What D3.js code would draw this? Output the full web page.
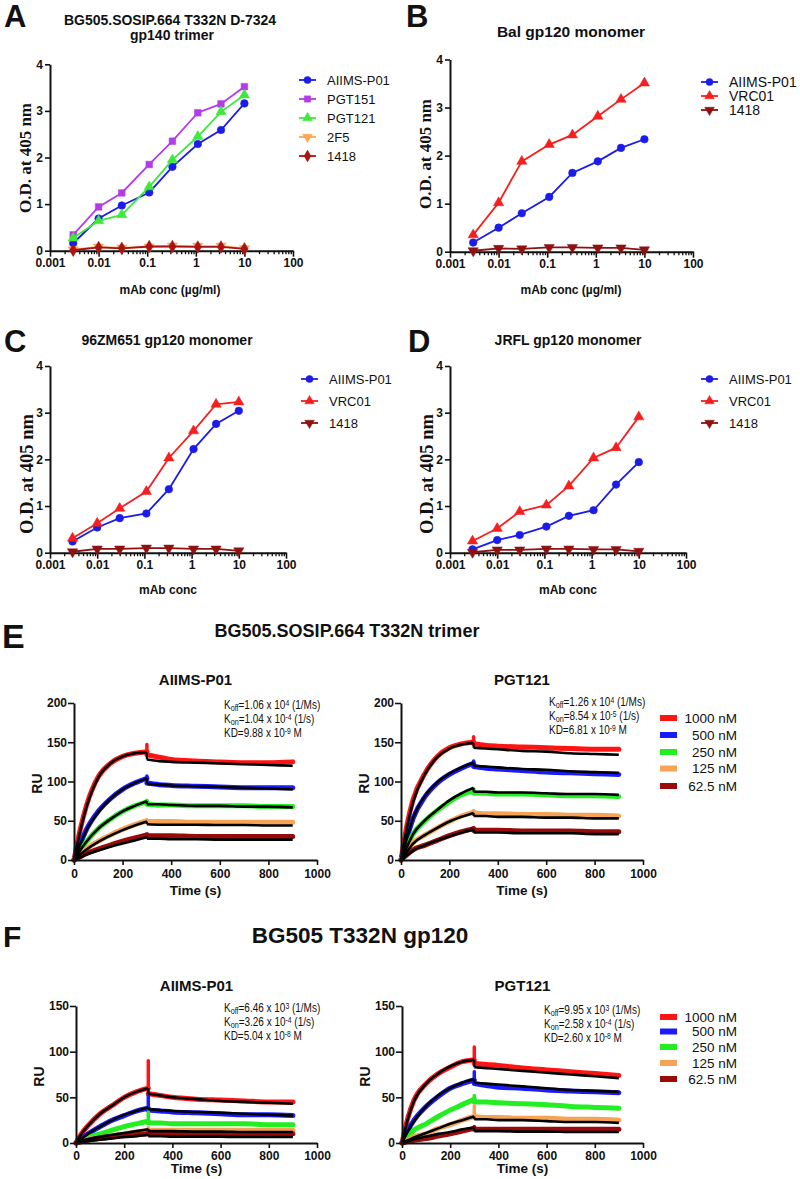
<!DOCTYPE html>
<html><head><meta charset="utf-8">
<script src="https://cdn.jsdelivr.net/npm/d3@7"></script>
<style>
body{margin:0;background:#fff}
svg{display:block}
text{font-family:"Liberation Sans",Arial,sans-serif;fill:#111}
</style></head>
<body><svg id="c" width="800" height="1179"></svg>
<script>
// ---------------- ELISA data (panels A-D) ----------------
const conc = [0.003, 0.01, 0.03, 0.11, 0.33, 1.1, 3.3, 10];
const logTicks = [0.001, 0.01, 0.1, 1, 10, 100];
const odTicks = [0, 1, 2, 3, 4];

const A_AIIMS  = [0.16, 0.69, 0.97, 1.25, 1.80, 2.29, 2.59, 3.16];
const A_PGT151 = [0.34, 0.94, 1.24, 1.85, 2.35, 2.96, 3.15, 3.52];
const A_PGT121 = [0.27, 0.64, 0.77, 1.37, 1.95, 2.45, 2.98, 3.34];
const A_2F5    = [0.02, 0.08, 0.06, 0.08, 0.10, 0.10, 0.10, 0.05];
const A_1418   = [0.01, 0.07, 0.05, 0.09, 0.09, 0.08, 0.08, 0.04];

const B_AIIMS = [0.19, 0.50, 0.80, 1.14, 1.64, 1.88, 2.16, 2.34];
const B_VRC01 = [0.35, 1.02, 1.88, 2.23, 2.43, 2.82, 3.17, 3.51];
const B_1418  = [0.02, 0.07, 0.06, 0.09, 0.09, 0.08, 0.08, 0.04];

const C_AIIMS = [0.24, 0.54, 0.74, 0.84, 1.36, 2.22, 2.76, 3.04];
const C_VRC01 = [0.31, 0.63, 0.95, 1.31, 2.03, 2.61, 3.18, 3.23];
const C_1418  = [0.02, 0.08, 0.08, 0.10, 0.10, 0.08, 0.08, 0.04];

const D_AIIMS = [0.07, 0.27, 0.38, 0.56, 0.79, 0.91, 1.46, 1.94];
const D_VRC01 = [0.25, 0.52, 0.88, 1.02, 1.43, 2.03, 2.25, 2.91];
const D_1418  = [0.01, 0.06, 0.06, 0.08, 0.08, 0.07, 0.07, 0.03];

// ---------------- SPR data (panels E-F) ----------------
const assocT  = [0, 25, 50, 100, 150, 200, 250, 300];
const dissocT = [300, 350, 400, 500, 600, 700, 800, 900];
const sprLabels = ["1000 nM", "500 nM", "250 nM", "125 nM", "62.5 nM"];
const timeTicks = [0, 200, 400, 600, 800, 1000];
const ruTicksE = [0, 50, 100, 150, 200];
const ruTicksF = [0, 50, 100, 150];

// E left: AIIMS-P01 vs trimer
const E1_assoc = [[0,38,68,106,123,132,136,138],[0,20,38,62,78,90,98,104],[0,12,23,40,52,62,69,74],[0,7,14,24,32,39,45,50],[0,4,8,14,19,24,28,32]];
const E1_spike = [147, 107, 76, 51, 33];
const E1_dissoc = [[134,131,128,126,125,124,124,125],[98,96,95,94,93,92,92,92],[71,70,70,69,69,69,68,68],[49,49,49,48,48,48,48,48],[31,31,31,30,30,30,30,30]];
const E1_fitAssoc = [[0,36,66,105,123,132,136,137],[0,19,37,61,78,90,98,104],[0,12,23,40,52,62,69,75],[0,7,13,23,31,38,44,49],[0,3,7,12,17,21,25,29]];
const E1_fitDissoc = [[128,126,125,124,123,122,121,120],[97,96,95,94,93,92,91,90],[71,71,70,69,69,68,68,67],[45.5,45,45,45,44.5,44.5,44,44],[27,27,26.5,26.5,26,26,26,26]];

// E right: PGT121 vs trimer
const E2_assoc = [[0,45,77,111,132,143,148,150],[0,28,53,81,98,109,117,123],[0,17,33,50,63,74,83,88],[0,12,22,32,41,49,56,61],[0,7,13,19,25,31,36,40]];
const E2_spike = [157, 126, 90, 63, 41];
const E2_dissoc = [[148,146,145,144,143,142,141,141],[119,117,116,114,112,111,110,109],[85,85,84,84,83,82,82,81],[60,59,59,58,58,57,57,56],[38,38,38,37,37,37,36,36]];
const E2_fitAssoc = [[0,42,74,110,131,142,147,149],[0,28,53,82,99,110,118,124],[0,17,33,51,64,76,85,92],[0,11,21,32,41,49,55,60],[0,6,12,19,25,30,35,39]];
const E2_fitDissoc = [[143,142,141,139,138,136,135,134],[120,119,118,116,115,113,112,111],[87,87,86,86,85,84,84,83],[56,56,55,55,54,54,53,53],[35,35,35,34,34,34,33,33]];

// F left: AIIMS-P01 vs gp120
const F1_assoc = [[0,11,19,32,41,50,56,60],[0,5,10,18,25,30,35,38],[0,3,6,10,14,18,21,24],[0,2,4,6,8,10,12,14],[0,1.5,3,5,6.5,8,9,10]];
const F1_spike = [90, 54, 34, 17, 14];
const F1_dissoc = [[54,52,50,48,47,46,45,45],[36,35,34,33,32,31,31,30],[22,22,21,21,21,21,20,20],[14,14,14,14,14,14,14,14],[10,10,10,10,10,10,10,10]];
const F1_fitAssoc = [[0,11,19,32,41,50,56,60],[0,5,10,18,25,31,35,39],null,[0,2,4,7,9,11,13,15],[0,1,2,3.5,5,6.5,7.5,9]];
const F1_fitDissoc = [[54,52,50,48,46,45,44,43],[37,36,35,34,33,32,31,30],null,[13,13,13,12.5,12.5,12,12,12],[7.5,7.5,7,7,7,6.5,6.5,6.5]];

// F right: PGT121 vs gp120
const F2_assoc = [[0,28,47,65,76,83,89,91],[0,14,25,40,51,60,65,69],[0,7,14,21,29,36,42,48],[0,3,7,10,16,20,25,29],[0,1.5,3,5,7.5,10,13,16]];
const F2_spike = [105, 78, 52, 41, 18];
const F2_dissoc = [[87,86,85,82,80,78,76,74],[65,63,61,60,58,57,56,55],[45,45,44,43,42,40,39,38],[29,28,28,27,27,26,26,25],[15,15,15,15,15,15,15,15]];
const F2_fitAssoc = [[0,27,46,65,76,84,89,91],[0,13,24,40,52,60,66,70],null,[0,3,6,11,16,21,25,29],[0,2,4,7,10,12,15,17]];
const F2_fitDissoc = [[83,82,81,79,77,75,73,71],[66,65,64,62,60,58,57,56],null,[26,26,25,25,24,23,23,22],[13,13,13,12.5,12.5,12,12,12]];

const sprColors = ["#ff1414", "#1a1aff", "#22ee22", "#f7a355", "#990a0a"];

// ---------------- drawing helpers ----------------
const svg = d3.select("#c");
const BOLD = "bold";

function txt(x, y, s, size, opt = {}) {
  const t = svg.append("text").attr("x", x).attr("y", y).text(s)
    .style("font-size", size + "px")
    .style("font-weight", opt.weight || "normal")
    .attr("text-anchor", opt.anchor || "start");
  if (opt.family) t.style("font-family", opt.family);
  if (opt.rotate) t.attr("transform", `rotate(-90 ${x} ${y})`);
  return t;
}

function styleAxis(g, fs) {
  g.select(".domain").attr("stroke", "#111").attr("stroke-width", 2);
  g.selectAll(".tick line").attr("stroke", "#111").attr("stroke-width", 1.6);
  g.selectAll(".tick text").style("font-size", fs + "px").style("font-weight", "bold")
    .style("font-family", '"Liberation Sans",Arial,sans-serif').attr("fill", "#111");
}

const minorTicks = [];
[0.001, 0.01, 0.1, 1, 10].forEach(d => { for (let k = 2; k <= 9; k++) minorTicks.push(d * k); });

function symbolPath(kind, size) {
  const map = { circle: d3.symbolCircle, square: d3.symbolSquare, tri: d3.symbolTriangle, tridown: d3.symbolTriangle, diamond: d3.symbolDiamond };
  return d3.symbol().type(map[kind]).size(size)();
}

function drawMarker(g, kind, x, y, color, size) {
  g.append("path").attr("d", symbolPath(kind, size))
    .attr("transform", `translate(${x},${y})` + (kind === "tridown" ? " rotate(180)" : ""))
    .attr("fill", color).attr("stroke", color).attr("stroke-width", 0.5);
}

function elisaPanel(cfg) {
  const x = d3.scaleLog().domain([0.001, 100]).range([cfg.x0, cfg.x1]);
  const y = d3.scaleLinear().domain([0, 4]).range([cfg.yb, cfg.yt]);
  const g = svg.append("g");
  const gm = g.append("g").attr("transform", `translate(0,${cfg.yb})`)
    .call(d3.axisBottom(x).tickValues(minorTicks).tickSize(3.5).tickSizeOuter(0).tickFormat(""));
  gm.select(".domain").remove();
  gm.selectAll(".tick line").attr("stroke", "#111").attr("stroke-width", 1.3);
  const gx = g.append("g").attr("transform", `translate(0,${cfg.yb})`)
    .call(d3.axisBottom(x).tickValues(logTicks).tickSize(6).tickSizeOuter(0).tickPadding(2).tickFormat(d => String(d)));
  styleAxis(gx, 12);
  const gy = g.append("g").attr("transform", `translate(${cfg.x0},0)`)
    .call(d3.axisLeft(y).tickValues(odTicks).tickSize(5).tickSizeOuter(0).tickPadding(2).tickFormat(d3.format("d")));
  styleAxis(gy, 12);
  const line = d3.line().x((d, i) => x(conc[i])).y(d => y(d));
  cfg.series.forEach(s => {
    g.append("path").attr("d", line(s.vals)).attr("fill", "none").attr("stroke", s.color).attr("stroke-width", 1.8);
    s.vals.forEach((v, i) => drawMarker(g, s.symbol, x(conc[i]), y(v), s.color, s.msize || 46));
  });
  cfg.series.forEach((s, i) => {
    const yy = cfg.legY[i];
    g.append("line").attr("x1", cfg.legX).attr("x2", cfg.legX + 17).attr("y1", yy).attr("y2", yy)
      .attr("stroke", s.color).attr("stroke-width", 1.8);
    drawMarker(g, s.symbol, cfg.legX + 8.5, yy, s.color, 40);
    txt(cfg.legX + 28, yy + cfg.legFs * 0.36, s.name, cfg.legFs);
  });
  txt(cfg.ylabX, cfg.ylabY, "O.D. at 405 nm", cfg.ylabFs, { weight: BOLD, anchor: "middle", rotate: true, family: '"Liberation Serif","Times New Roman",serif' });
}

const cBlue = "#1c1ce8", cPurple = "#b33ce6", cGreen = "#3ee83e", cOrange = "#ffa54f", cDark = "#a81414", cRed = "#f51f1f", cDark2 = "#8e1212";

elisaPanel({ x0: 50, x1: 293, yb: 250.7, yt: 64.3, legX: 299, legY: [80, 99, 118, 137, 156], legFs: 13, ylabX: 31, ylabY: 158, ylabFs: 17,
  series: [
    { name: "AIIMS-P01", vals: A_AIIMS, color: cBlue, symbol: "circle" },
    { name: "PGT151", vals: A_PGT151, color: cPurple, symbol: "square", msize: 44 },
    { name: "PGT121", vals: A_PGT121, color: cGreen, symbol: "tri" },
    { name: "2F5", vals: A_2F5, color: cOrange, symbol: "tridown" },
    { name: "1418", vals: A_1418, color: cDark, symbol: "diamond" }] });

elisaPanel({ x0: 450, x1: 693, yb: 251.7, yt: 59.5, legX: 701, legY: [82, 96, 110], legFs: 14, ylabX: 431, ylabY: 154, ylabFs: 17,
  series: [
    { name: "AIIMS-P01", vals: B_AIIMS, color: cBlue, symbol: "circle" },
    { name: "VRC01", vals: B_VRC01, color: cRed, symbol: "tri" },
    { name: "1418", vals: B_1418, color: cDark2, symbol: "tridown" }] });

elisaPanel({ x0: 50, x1: 286, yb: 552.7, yt: 366, legX: 301, legY: [379, 401, 423], legFs: 13, ylabX: 33, ylabY: 474, ylabFs: 18.5,
  series: [
    { name: "AIIMS-P01", vals: C_AIIMS, color: cBlue, symbol: "circle" },
    { name: "VRC01", vals: C_VRC01, color: cRed, symbol: "tri" },
    { name: "1418", vals: C_1418, color: cDark2, symbol: "tridown" }] });

elisaPanel({ x0: 450, x1: 686, yb: 552.7, yt: 366, legX: 701, legY: [379, 401, 423], legFs: 13, ylabX: 433, ylabY: 474, ylabFs: 18.5,
  series: [
    { name: "AIIMS-P01", vals: D_AIIMS, color: cBlue, symbol: "circle" },
    { name: "VRC01", vals: D_VRC01, color: cRed, symbol: "tri" },
    { name: "1418", vals: D_1418, color: cDark2, symbol: "tridown" }] });

txt(4, 27, "A", 31, { weight: BOLD });
txt(170, 25, "BG505.SOSIP.664 T332N D-7324", 14, { weight: BOLD, anchor: "middle" });
txt(172, 40, "gp140 trimer", 14, { weight: BOLD, anchor: "middle" });
txt(406, 27, "B", 31, { weight: BOLD });
txt(571, 37, "Bal gp120 monomer", 15.5, { weight: BOLD, anchor: "middle" });
txt(4, 352, "C", 31, { weight: BOLD });
txt(167, 345, "96ZM651 gp120 monomer", 14, { weight: BOLD, anchor: "middle" });
txt(408, 352, "D", 31, { weight: BOLD });
txt(568, 345, "JRFL gp120 monomer", 14, { weight: BOLD, anchor: "middle" });
txt(170, 294, "mAb conc (\u00b5g/ml)", 12, { weight: BOLD, anchor: "middle" });
txt(571, 294, "mAb conc (\u00b5g/ml)", 12, { weight: BOLD, anchor: "middle" });
txt(168, 594, "mAb conc", 12, { weight: BOLD, anchor: "middle" });
txt(568, 594, "mAb conc", 12, { weight: BOLD, anchor: "middle" });

// ---------------- SPR panels ----------------
function sprPanel(cfg) {
  const x = d3.scaleLinear().domain([0, 1000]).range([cfg.x0, cfg.x1]);
  const y = d3.scaleLinear().domain([0, cfg.ymax]).range([cfg.yb, cfg.yt]);
  const g = svg.append("g");
  const curve = d3.line().x(d => x(d[0])).y(d => y(d[1])).curve(d3.curveMonotoneX);
  const zip = (ts, vs) => ts.map((t, i) => [t, vs[i]]);
  cfg.assoc.forEach((a, i) => {
    const col = sprColors[i];
    const d = cfg.dissoc[i];
    g.append("path").attr("d", curve(zip(assocT, a))).attr("fill", "none").attr("stroke", col).attr("stroke-width", 5).attr("stroke-linecap", "round");
    g.append("path").attr("d", curve(zip(dissocT, d))).attr("fill", "none").attr("stroke", col).attr("stroke-width", 5).attr("stroke-linecap", "round");
    const lo = Math.min(a[a.length - 1], d[0]);
    g.append("line").attr("x1", x(300)).attr("x2", x(300)).attr("y1", y(lo)).attr("y2", y(cfg.spike[i]))
      .attr("stroke", col).attr("stroke-width", 3.5).attr("stroke-linecap", "round");
  });
  cfg.fitAssoc.forEach((a, i) => {
    if (!a) return;
    const d = cfg.fitDissoc[i];
    g.append("path").attr("d", curve(zip(assocT, a))).attr("fill", "none").attr("stroke", "#000").attr("stroke-width", 2.6);
    g.append("path").attr("d", curve(zip(dissocT, d))).attr("fill", "none").attr("stroke", "#000").attr("stroke-width", 2.6);
    g.append("line").attr("x1", x(300)).attr("x2", x(300)).attr("y1", y(a[a.length - 1])).attr("y2", y(d[0]))
      .attr("stroke", "#000").attr("stroke-width", 2.2);
  });
  const gx = g.append("g").attr("transform", `translate(0,${cfg.yb})`)
    .call(d3.axisBottom(x).tickValues(timeTicks).tickSize(5).tickSizeOuter(0).tickPadding(cfg.xpad).tickFormat(d3.format("d")));
  styleAxis(gx, 12);
  const gy = g.append("g").attr("transform", `translate(${cfg.x0},0)`)
    .call(d3.axisLeft(y).tickValues(cfg.yticks).tickSize(6).tickSizeOuter(0).tickPadding(1).tickFormat(d3.format("d")));
  styleAxis(gy, 12);
  txt((cfg.x0 + cfg.x1) / 2, cfg.timeY, "Time (s)", 13.5, { weight: BOLD, anchor: "middle" });
  txt(cfg.x0 - 32, (cfg.yb + cfg.yt) / 2 + 2, "RU", 14, { weight: BOLD, anchor: "middle", rotate: true });
  txt((cfg.x0 + cfg.x1) / 2, cfg.subY, cfg.sub, 15, { weight: BOLD, anchor: "middle" });
  const ann = svg.append("g").attr("transform", `translate(${cfg.annX},${cfg.annY}) scale(0.8,1)`);
  cfg.ann.forEach((row, r) => {
    const t = ann.append("text").attr("x", 0).attr("y", r * 14).style("font-size", "12.5px").attr("fill", "#222");
    row.forEach(part => {
      const ts = t.append("tspan").text(part[0]);
      if (part[1] === "sub") ts.attr("baseline-shift", "-25%").style("font-size", "9px");
      if (part[1] === "sup") ts.attr("baseline-shift", "40%").style("font-size", "8.5px");
    });
  });
  if (cfg.legY) {
    cfg.legY.forEach((yy, i) => {
      svg.append("rect").attr("x", 660).attr("y", yy - 3).attr("width", 17).attr("height", 6).attr("fill", sprColors[i]);
      txt(737, yy + 4.5, sprLabels[i], 13.5, { anchor: "end" });
    });
  }
}

function kinRows(off, offExp, on, onExp, kd, kdExp) {
  return [
    [["K"], ["off", "sub"], ["=" + off + " x 10"], [offExp, "sup"], [" (1/Ms)"]],
    [["K"], ["on", "sub"], ["=" + on + " x 10"], [onExp, "sup"], [" (1/s)"]],
    [["KD=" + kd + " x 10"], [kdExp, "sup"], [" M"]]
  ];
}

txt(2, 648, "E", 34, { weight: BOLD });
txt(347, 637, "BG505.SOSIP.664 T332N trimer", 18, { weight: BOLD, anchor: "middle" });
txt(3, 947, "F", 30, { weight: BOLD });
txt(360, 943, "BG505 T332N gp120", 22.5, { weight: BOLD, anchor: "middle" });

sprPanel({ x0: 74, x1: 317, yb: 860, yt: 703, ymax: 200, yticks: ruTicksE, xpad: 4, timeY: 895, subY: 685, sub: "AIIMS-P01",
  assoc: E1_assoc, spike: E1_spike, dissoc: E1_dissoc, fitAssoc: E1_fitAssoc, fitDissoc: E1_fitDissoc,
  annX: 224, annY: 709, ann: kinRows("1.06", "4", "1.04", "-4", "9.88", "-9") });
sprPanel({ x0: 401, x1: 643, yb: 860, yt: 703, ymax: 200, yticks: ruTicksE, xpad: 4, timeY: 895, subY: 685, sub: "PGT121",
  assoc: E2_assoc, spike: E2_spike, dissoc: E2_dissoc, fitAssoc: E2_fitAssoc, fitDissoc: E2_fitDissoc,
  annX: 549, annY: 706, ann: kinRows("1.26", "4", "8.54", "-5", "6.81", "-9"),
  legY: [718, 735, 752, 768.5, 786] });
sprPanel({ x0: 76, x1: 317, yb: 1143, yt: 1006, ymax: 150, yticks: ruTicksF, xpad: 3, timeY: 1173, subY: 991, sub: "AIIMS-P01",
  assoc: F1_assoc, spike: F1_spike, dissoc: F1_dissoc, fitAssoc: F1_fitAssoc, fitDissoc: F1_fitDissoc,
  annX: 224, annY: 1012, ann: kinRows("6.46", "3", "3.26", "-4", "5.04", "-8") });
sprPanel({ x0: 402, x1: 643, yb: 1143, yt: 1006, ymax: 150, yticks: ruTicksF, xpad: 3, timeY: 1173, subY: 991, sub: "PGT121",
  assoc: F2_assoc, spike: F2_spike, dissoc: F2_dissoc, fitAssoc: F2_fitAssoc, fitDissoc: F2_fitDissoc,
  annX: 544, annY: 1014, ann: kinRows("9.95", "3", "2.58", "-4", "2.60", "-8"),
  legY: [1017, 1031.5, 1047, 1063, 1079] });
</script>
</body></html>
